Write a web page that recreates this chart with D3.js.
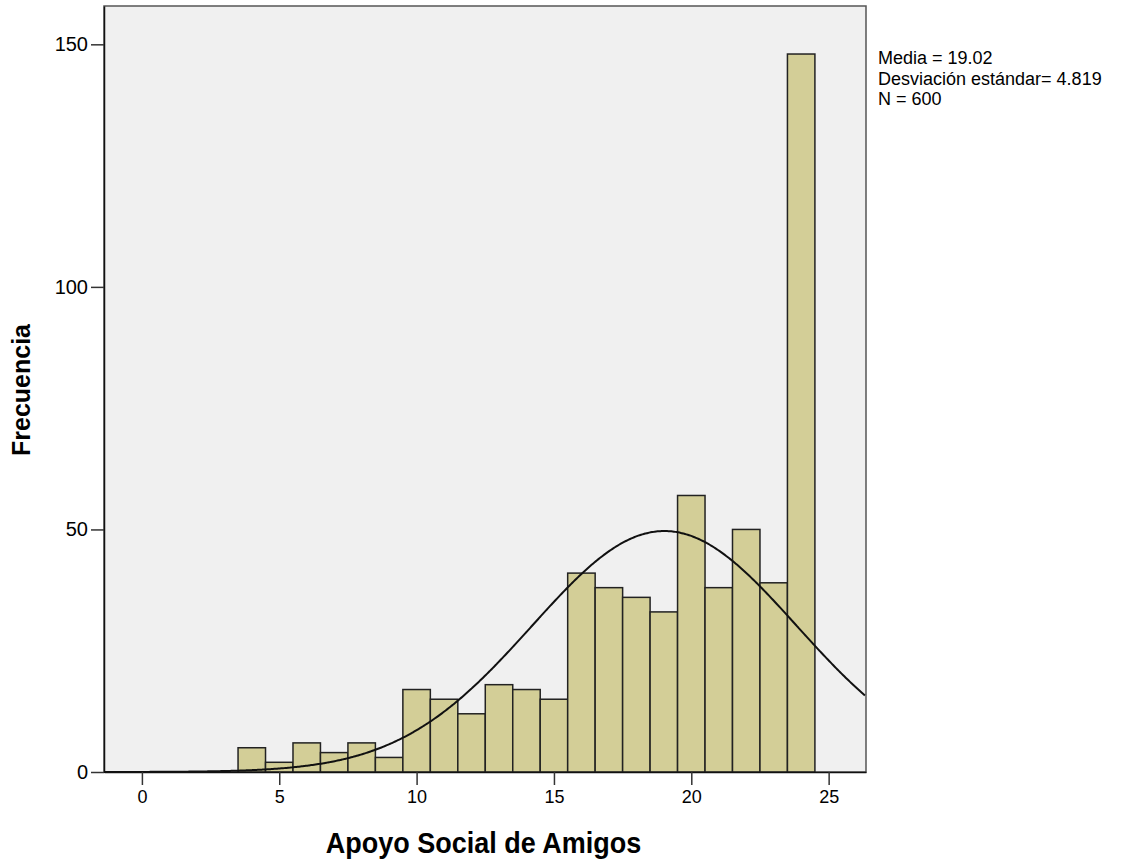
<!DOCTYPE html>
<html>
<head>
<meta charset="utf-8">
<script src="https://cdn.jsdelivr.net/npm/d3@7"></script>
<style>
  html, body { margin: 0; padding: 0; background: #ffffff; }
  svg { display: block; }
  text { font-family: "Liberation Sans", Arial, sans-serif; fill: #000; }
</style>
</head>
<body>
<svg id="chart" width="1143" height="863"></svg>
<script>
// Histogram of "Apoyo Social de Amigos" (bin width 1, centred on integers)
const binCenters = [4, 5, 6, 7, 8, 9, 10, 11, 12, 13, 14, 15, 16, 17, 18, 19, 20, 21, 22, 23, 24];
const frequencies = [5, 2, 6, 4, 6, 3, 17, 15, 12, 18, 17, 15, 41, 38, 36, 33, 57, 38, 50, 39, 148];
const binWidth = 1;

const xTicks = [0, 5, 10, 15, 20, 25];
const yTicks = [0, 50, 100, 150];

const stats = { mean: 19.02, sd: 4.819, n: 600 };
const statLines = ["Media = 19.02", "Desviación estándar= 4.819", "N = 600"];

const xTitle = "Apoyo Social de Amigos";
const yTitle = "Frecuencia";

// Plot frame
const frame = { left: 104, right: 866, top: 6, bottom: 772 };
const xDomain = [-1.38, 26.36];
const yDomain = [0, 157.9];

const svg = d3.select("#chart");

const x = d3.scaleLinear().domain(xDomain).range([frame.left, frame.right]);
const y = d3.scaleLinear().domain(yDomain).range([frame.bottom, frame.top]);

// background panel
svg.append("rect")
  .attr("x", frame.left).attr("y", frame.top)
  .attr("width", frame.right - frame.left).attr("height", frame.bottom - frame.top)
  .attr("fill", "#f0f0f0")
  .attr("stroke", "#555").attr("stroke-width", 1.5);

// bars
svg.append("g")
  .selectAll("rect")
  .data(binCenters.map((c, i) => ({ c, f: frequencies[i] })))
  .join("rect")
  .attr("x", d => x(d.c - binWidth / 2))
  .attr("y", d => y(d.f))
  .attr("width", d => x(d.c + binWidth / 2) - x(d.c - binWidth / 2))
  .attr("height", d => y(0) - y(d.f))
  .attr("fill", "#d3ce97")
  .attr("stroke", "#222")
  .attr("stroke-width", 1.5);

// normal curve scaled to counts
const pdf = v => Math.exp(-0.5 * Math.pow((v - stats.mean) / stats.sd, 2)) / (stats.sd * Math.sqrt(2 * Math.PI));
const curvePts = d3.range(xDomain[0], xDomain[1] + 0.001, 0.05).map(v => [v, stats.n * binWidth * pdf(v)]);
svg.append("path")
  .datum(curvePts)
  .attr("d", d3.line().x(d => x(d[0])).y(d => y(d[1])).curve(d3.curveBasis))
  .attr("fill", "none")
  .attr("stroke", "#111")
  .attr("stroke-width", 2);

// x axis
const xAxis = svg.append("g")
  .attr("transform", `translate(0,${frame.bottom})`)
  .call(d3.axisBottom(x).tickValues(xTicks).tickSize(13).tickSizeOuter(0).tickPadding(5));
xAxis.select(".domain").attr("stroke", "#111").attr("stroke-width", 1.5);
xAxis.selectAll(".tick line").attr("stroke", "#333").attr("stroke-width", 1.5);
xAxis.selectAll(".tick text")
  .attr("font-size", 18)
  .attr("font-family", "Liberation Sans, Arial, sans-serif")
  .attr("fill", "#222");

// y axis
const yAxis = svg.append("g")
  .attr("transform", `translate(${frame.left},0)`)
  .call(d3.axisLeft(y).tickValues(yTicks).tickSize(13).tickSizeOuter(0).tickPadding(3));
yAxis.select(".domain").attr("stroke", "#111").attr("stroke-width", 1.5);
yAxis.selectAll(".tick line").attr("stroke", "#333").attr("stroke-width", 1.5);
yAxis.selectAll(".tick text")
  .attr("font-size", 20)
  .attr("font-family", "Liberation Sans, Arial, sans-serif")
  .attr("fill", "#222");

// axis titles
svg.append("text")
  .attr("transform", "translate(483.5,853) scale(1,1.1)")
  .attr("text-anchor", "middle")
  .attr("font-size", 27)
  .attr("font-weight", "bold")
  .text(xTitle);

svg.append("text")
  .attr("transform", "translate(30,390) rotate(-90)")
  .attr("text-anchor", "middle")
  .attr("font-size", 25)
  .attr("font-weight", "bold")
  .text(yTitle);

// summary statistics
svg.append("g")
  .selectAll("text")
  .data(statLines)
  .join("text")
  .attr("x", 878)
  .attr("y", (d, i) => 64 + i * 20.5)
  .attr("font-size", 18)
  .attr("fill", "#111")
  .text(d => d);
</script>
</body>
</html>
